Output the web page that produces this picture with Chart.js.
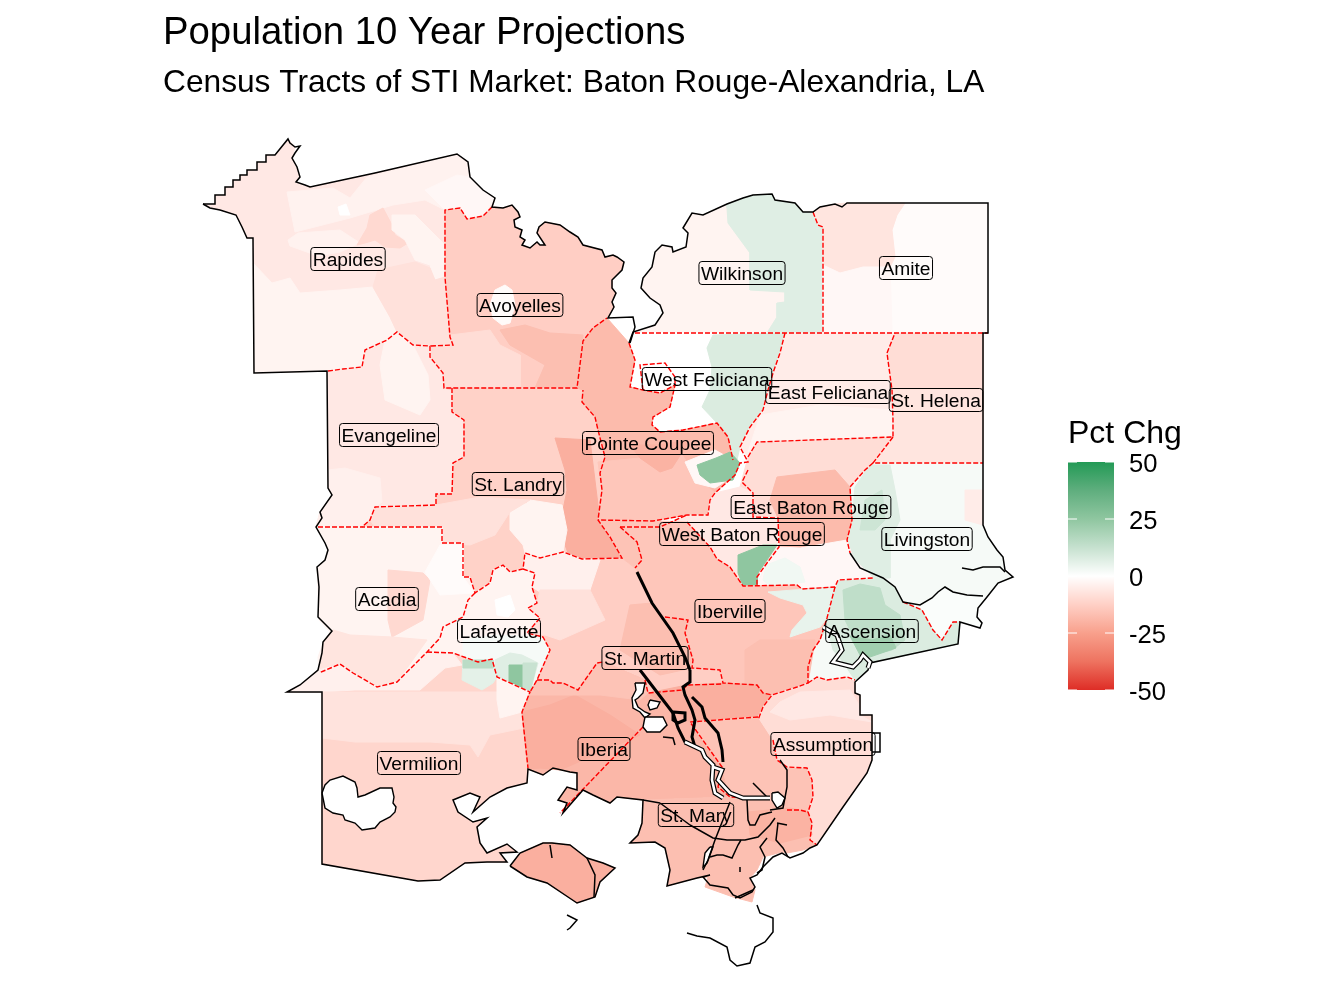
<!DOCTYPE html>
<html>
<head>
<meta charset="utf-8">
<title>Population 10 Year Projections</title>
<script src="https://cdn.jsdelivr.net/npm/chart.js@4"></script>
<style>
  html, body { margin: 0; padding: 0; background: #fff; }
  canvas { display: block; }
</style>
</head>
<body>
<canvas id="map" width="1344" height="1008"></canvas>
<script>
// colour scale of the legend
const rampPct = [-50, -37.5, -25, -12.5, 0, 12.5, 25, 37.5, 50];
const rampColor = ["#de2d26", "#ee7360", "#f8a08c", "#ffd0c6", "#ffffff", "#c6e1cf", "#8fc6a0", "#5fae7e", "#239a56"];
const legendTicks = [50, 25, 0, -25, -50];

// estimated percent change of each filled area, same order as tractShapes
const tractPct = [
  -6, -3, -3.5, -3.5, -10, -3, -2, 0, -8,            // Rapides
  -13, -9, -17, -1,                                  // Avoyelles
  -3, 7,                                             // Wilkinson
  -1, -7, -2,                                        // Amite
  0, 8,                                              // West Feliciana
  -5, -3,                                            // East Feliciana
  -9, -7,                                            // St. Helena
  2, 7, 11, -5, 1,                                   // Livingston
  8, 2, 14, 21,                                      // Ascension
  -6, -3, -4,                                        // Evangeline
  -12, -21, -3, -8, -1,                              // St. Landry
  -3, -10, -7, -1,                                   // Acadia
  -3, 0, 2, 7, 25, 12,                               // Lafayette
  -18, -15, -20,                                     // Pointe Coupee
  -2, 25,                                            // False River patch
  -9, -18, -2, 3,                                    // East Baton Rouge
  -6, 25,                                            // West Baton Rouge
  -15, 5, -17,                                       // Iberville
  -11, -4, -7.5, -3, 6, 15,                          // Vermilion
  -13, -4, -8, -17, -16,                             // St. Martin upper
  -19, -21, -16,                                     // Iberia and lower St. Martin
  -21, -16,                                          // Assumption west
  -9, -6,                                            // Assumption east
  -17, -20,                                          // St. Mary
  -21                                                // Marsh Island
];

// outlines in map units, [x, y, x, y, ...]
const tractShapes = [
  // Rapides
  [203,204,215,204,215,195,225,195,225,187,233,187,233,180,240,180,240,175,247,175,247,170,257,170,257,162,266,162,266,155,275,155,288,139,295,147,292,158,300,177,296,182,310,187,375,173,457,154,468,162,470,177,483,190,495,198,492,207,483,216,467,219,460,208,445,210,445,277,450,337,453,345,430,346,413,345,397,332,387,340,365,350,362,367,327,371,254,373,253,238,247,238,242,227,236,215,220,210],
  [253,263,272,283,290,278,300,293,340,290,373,287,390,317,397,332,387,340,365,350,362,367,327,371,254,373],
  [287,192,333,188,350,198,367,177,457,154,468,162,470,177,483,190,495,198,483,216,467,219,460,208,445,210,425,200,393,205,370,212,350,218,295,232],
  [288,240,298,233,340,230,360,243,340,252,318,256,290,246],
  [357,245,367,228,370,215,383,208,392,225,395,235,408,243,400,248,385,247,375,240,365,243],
  [392,215,415,215,445,245,445,277,435,280,430,265,415,260,405,240,392,230],
  [425,190,457,175,470,177,483,190,495,198,483,216,467,219,460,208,445,210],
  [338,207,346,204,350,215,340,215],
  [373,287,378,270,415,262,430,268,435,280,445,277,450,337,453,345,430,346,413,345,397,332,390,317],
  // Avoyelles
  [445,210,460,208,467,219,483,216,492,207,503,208,512,205,518,212,520,217,514,220,515,227,522,230,520,237,525,240,522,245,530,248,537,242,540,245,545,245,537,233,539,227,545,222,560,225,570,232,578,237,583,245,602,250,605,257,613,255,617,257,624,262,622,270,612,280,612,288,616,293,612,302,614,307,608,318,593,328,583,341,577,388,444,388,443,373,430,357,430,346,453,345,450,337,445,277],
  [450,335,490,330,500,345,520,355,520,388,444,388,443,373,430,357,430,346,453,345],
  [500,330,525,325,550,333,583,335,577,388,535,388,545,365,510,345],
  [495,290,505,285,512,290,515,305,510,323,502,325,493,318,490,305],
  // Wilkinson
  [641,288,643,278,652,267,655,252,662,245,672,247,673,252,686,247,688,233,683,228,692,213,703,215,727,204,743,198,753,195,772,194,775,200,795,203,803,212,813,212,818,225,823,227,823,333,635,333,655,325,663,313,660,305,650,298],
  [727,208,728,223,750,253,750,290,785,292,785,302,777,303,777,317,767,333,823,333,823,227,818,225,813,212,803,212,795,203,775,200,772,194,753,195,743,198,727,204],
  // Amite
  [823,227,813,212,820,207,847,203,988,203,988,333,823,333],
  [813,212,820,207,835,204,847,203,905,203,897,215,892,230,895,257,890,267,863,267,840,273,823,265,823,227,818,225],
  [823,265,840,273,863,267,890,267,892,333,823,333],
  // West Feliciana
  [629,343,635,333,785,333,780,353,773,373,768,390,763,410,750,427,740,447,733,460,728,437,717,423,683,430,660,432,652,425,653,417,670,407,675,385,660,393,643,390,630,387,635,360],
  [713,335,785,333,780,353,773,373,768,390,763,410,750,427,740,447,737,460,733,460,728,437,717,423,702,407,710,390,712,367,707,348],
  // East Feliciana
  [785,333,895,333,887,353,892,390,893,420,893,437,757,442,748,457,740,447,750,427,763,410,768,390,773,373,780,353],
  [760,415,820,405,893,410,893,437,757,442,748,452],
  // St. Helena
  [895,333,983,333,983,463,873,463,893,437,893,420,892,390,887,353],
  [892,390,983,390,983,463,873,463,893,437,893,420],
  // Livingston
  [873,463,983,463,983,525,988,537,997,550,1003,557,1005,570,1013,577,998,583,987,597,967,595,953,592,945,587,938,592,932,598,920,605,903,602,895,587,883,578,873,578,863,568,853,558,847,540,852,520,850,487,865,470],
  [855,487,870,465,890,465,895,490,900,520,890,540,890,578,873,578,863,568,853,558,848,540,852,520],
  [865,500,882,490,885,520,875,530,860,530],
  [965,490,983,490,983,525,965,520],
  [903,602,920,605,932,598,938,592,945,587,953,592,967,595,987,597,978,608,977,617,982,623,980,628,960,622,953,622,942,640,933,630,922,610],
  // Ascension
  [838,580,873,578,883,578,895,587,903,602,922,610,933,630,942,640,953,622,960,622,958,644,870,663,868,670,855,682,847,677,827,680,817,677,808,683,808,667,813,650,820,640,827,618,835,587],
  [808,683,808,667,813,650,820,640,827,630,832,650,842,662,855,682,847,677,827,680,817,677],
  [843,590,860,584,880,588,885,605,900,615,905,640,892,650,870,655,855,640,845,620],
  [850,636,872,640,890,635,896,648,870,657,860,655],
  // Evangeline
  [327,371,362,367,365,350,387,340,397,332,413,345,430,346,430,357,443,373,444,388,452,390,452,412,464,420,464,457,453,463,452,494,436,494,436,505,375,507,370,520,362,527,316,527,320,512,332,495,328,488,328,390],
  [385,340,397,332,413,345,428,375,430,400,420,415,385,400,380,365],
  [328,470,345,468,380,478,382,502,375,507,370,520,362,527,316,527,320,512,332,495,328,488],
  // St. Landry
  [444,388,577,388,583,390,582,402,595,417,598,430,605,457,600,473,602,490,598,520,610,537,622,558,582,559,563,552,540,558,525,553,523,569,510,572,503,565,493,570,490,583,475,593,470,577,463,577,463,543,442,543,442,527,362,527,370,520,375,507,436,505,436,494,452,494,453,463,464,457,464,420,452,412,452,390],
  [555,438,590,440,598,505,602,522,622,558,570,558,565,545,563,510,567,490,565,470],
  [510,505,527,503,530,500,562,505,567,530,563,552,540,558,525,553,523,545,510,530,510,520],
  [436,505,480,497,530,500,510,512,495,535,470,545,442,543,442,527,375,527,370,520,375,507],
  [435,545,463,545,463,577,470,590,450,590,435,575,425,570],
  // Acadia
  [316,527,442,527,442,543,463,543,463,577,470,577,475,593,468,600,463,617,443,627,440,638,427,652,397,682,377,687,353,673,340,664,319,673,318,657,323,643,330,632,319,620,317,567,325,560,328,547],
  [388,570,423,573,430,580,423,620,392,637,388,620],
  [333,630,350,635,392,637,427,640,397,682,377,687,353,673,340,664,320,670,323,643],
  [440,545,463,545,463,577,475,593,440,595,425,572],
  // Lafayette
  [475,593,490,583,493,570,503,565,510,572,523,569,535,573,532,587,537,603,528,608,540,618,527,633,543,637,550,650,537,680,530,692,497,677,492,659,478,662,453,653,427,652,440,638,443,627,463,617,468,600],
  [495,600,510,595,515,610,508,617,497,615],
  [463,640,495,635,543,637,550,650,537,680,530,692,497,677,492,659,478,662,463,657],
  [495,660,510,653,522,655,538,663,530,692,497,677],
  [509,665,523,665,523,690,509,685],
  [523,663,537,663,530,692,523,690],
  // Pointe Coupee
  [583,341,593,328,607,318,629,343,635,360,630,387,643,390,660,393,675,385,670,407,653,417,652,425,660,432,683,430,717,423,728,437,733,460,740,463,735,475,715,493,710,500,708,515,687,515,653,521,620,520,598,520,602,490,600,473,605,457,598,430,595,417,582,402,583,390,577,388],
  [598,462,640,458,660,470,680,452,700,480,715,493,710,500,708,515,687,515,653,521,620,520,598,520,602,490],
  [630,445,660,445,690,440,672,468,660,472,640,458],
  // False River patch
  [685,462,715,450,733,460,735,475,715,488,695,483],
  [697,465,716,458,730,452,740,463,733,480,710,483,700,475],
  // East Baton Rouge
  [757,442,893,437,873,463,865,470,850,487,852,520,847,540,853,558,863,568,873,578,838,580,835,587,802,589,797,585,757,585,767,563,779,547,778,518,753,517,753,493,740,487,748,457],
  [777,477,835,470,850,487,852,520,847,540,800,548,779,547,778,518,770,500],
  [767,563,779,547,800,548,847,540,853,558,863,568,873,578,838,580,835,587,802,589,797,585,757,585],
  [766,565,785,558,800,567,805,582,770,586,763,580],
  // West Baton Rouge
  [660,527,687,515,708,515,710,500,715,493,740,487,753,493,753,517,778,518,779,547,767,563,757,577,757,585,743,586,730,567,717,559,710,547,687,522],
  [738,555,763,545,777,545,767,560,758,573,757,585,743,586,738,573],
  // Iberville
  [635,568,642,560,637,542,620,527,620,520,660,521,687,522,710,547,717,559,730,567,743,586,797,585,802,589,835,587,827,618,820,640,813,650,808,667,808,683,797,687,772,695,763,693,757,685,723,683,720,670,692,668,693,660,685,633,688,620,665,617,652,603],
  [768,592,793,590,835,588,827,618,820,627,790,637,792,630,807,613,803,605,780,598],
  [745,650,760,640,790,640,815,640,808,683,797,687,772,695,763,693,757,685,745,683],
  // Vermilion
  [322,692,287,692,300,685,318,670,340,664,353,673,377,687,397,682,427,652,453,653,478,662,492,659,497,677,530,692,522,712,528,769,527,783,507,788,490,797,473,812,480,797,470,793,453,800,458,812,473,822,487,818,477,827,480,843,487,853,507,844,517,852,500,853,507,862,487,862,465,863,440,880,418,881,322,864],
  [287,692,300,685,318,670,340,664,353,673,377,687,397,682,427,652,453,653,462,665,445,668,420,690,355,690,322,692],
  [322,692,530,692,522,712,524,728,490,735,478,757,470,745,430,742,355,742,322,738],
  [497,677,530,692,522,712,500,718,497,700],
  [463,660,478,662,492,660,497,677,493,683,482,690,462,680],
  [463,660,492,660,493,668,463,668],
  // St. Martin upper
  [540,558,563,552,582,559,622,558,635,568,652,603,665,617,688,620,685,633,693,660,692,668,720,670,723,683,687,685,683,690,648,693,645,680,603,662,597,663,578,690,563,683,553,683,550,680,537,680,550,650,543,637,527,633,540,618,528,608,537,603,532,587,535,573,523,569,525,553],
  [540,558,563,552,582,559,600,560,590,590,540,592,532,587,535,573,523,569,525,553],
  [540,590,590,590,605,620,560,640,545,635,527,633,540,618,528,608,537,603],
  [630,605,652,603,665,617,688,620,685,633,693,660,692,668,660,675,620,650],
  [598,520,620,520,620,527,637,542,642,560,635,568,622,558,610,537],
  // Iberia and lower St. Martin
  [522,712,530,692,537,680,550,680,553,683,563,683,578,690,597,663,603,662,645,680,648,693,690,695,693,713,690,722,722,767,730,797,643,800,617,797,610,803,593,795,583,790,562,813,567,803,558,800,567,787,577,790,577,773,570,772,553,768,543,775,528,769],
  [522,712,550,705,575,695,610,715,640,735,560,770,540,768,528,769],
  [537,680,550,680,553,683,563,683,578,690,597,663,603,662,645,680,648,693,640,700,600,695,570,695,530,695],
  // Assumption west
  [648,693,687,685,723,683,757,685,763,693,772,695,763,707,758,717,690,722],
  [690,722,758,717,773,740,777,760,787,767,807,768,812,780,813,797,808,812,800,810,787,810,787,800,730,797,722,767],
  // Assumption east
  [772,695,797,687,808,683,817,677,827,680,847,677,855,682,855,693,860,695,860,715,872,715,872,760,867,773,843,807,817,845,810,840,812,823,808,812,813,797,812,780,807,768,787,767,777,760,773,740,758,717,763,707],
  [770,712,780,702,800,692,850,690,858,703,860,715,872,722,830,715,790,720],
  // St. Mary
  [643,800,730,797,787,800,787,810,808,812,812,823,810,840,817,845,803,850,787,853,782,852,763,857,757,870,750,878,755,890,752,902,733,897,705,887,708,877,697,878,667,886,670,870,665,848,655,842,630,843,638,835,642,823],
  [748,812,790,808,808,812,812,835,780,843,750,835],
  // Marsh Island
  [510,866,520,853,543,843,552,843,570,845,583,855,587,858,603,863,615,868,600,882,595,897,577,903,568,897,547,883,527,877]
];

// open water, left white
const waterShapes = [
  [322,793,325,785,330,780,343,776,355,782,357,788,358,797,365,795,380,788,392,788,394,797,393,803,396,807,395,812,390,817,380,822,375,828,362,830,355,823,345,820,343,815,333,813,325,808],
  [635,683,645,683,643,693,638,698,635,700,638,707,645,712,650,714,645,718,640,712,633,708,632,698,636,690],
  [650,700,660,702,657,708,650,710,648,705],
  [645,717,663,717,667,725,660,732,647,732,643,727],
  [772,793,778,792,785,798,782,805,777,808,772,800],
  [710,847,713,847,707,863,703,867,705,853]
];

// county lines
const countyLines = [
  [492,207,483,216,467,219,460,208,445,210,445,277,450,337,453,345,430,346],
  [328,371,343,369,362,367,365,350,387,340,397,332,413,345,430,346,430,357,443,373,444,388,577,388,583,341,593,328,607,318],
  [452,388,452,412,464,420,464,457,453,463,452,494,436,494,436,505,375,507,370,520,362,527],
  [318,527,442,527,442,543,463,543,463,577,470,577,475,593,490,583,493,570,503,565,510,572,523,569,525,553,540,558,563,552,582,559,622,558,610,537,598,520,602,490,600,473,605,457,598,430,595,417,582,402,583,390],
  [475,593,468,600,463,617,443,627,440,638,427,652,397,682,377,687,353,673,340,664,319,673],
  [427,652,453,653,478,662,492,659,497,677,530,692,522,712,528,768],
  [523,569,535,573,532,587,537,603,528,608,540,618,527,633,543,637,550,650,537,680,530,692],
  [537,680,550,680,553,683,563,683,578,690,597,663,603,662],
  [629,343,635,360,630,387,643,390,660,393,675,385,670,407,653,417,652,425,660,432,683,430,717,423,728,437,733,460],
  [643,390,640,365,665,363,675,377,675,385],
  [635,333,988,333],
  [813,212,818,225,823,227,823,333],
  [785,333,780,353,773,373,768,390,763,410,750,427,740,447,748,462,740,463,735,475,715,493,710,500,708,515,687,515,653,521,598,520],
  [748,457,757,442,893,437,893,420,892,390,887,353,895,333],
  [893,437,873,463,983,463],
  [873,463,865,470,850,487,852,520,847,540,850,553],
  [903,602,922,610,933,630,942,640,953,622,960,622],
  [748,470,742,482,753,493,753,517,778,518,779,547,767,563,757,577,757,585],
  [620,527,660,527,687,515],
  [620,527,637,542,642,560,635,568],
  [687,522,710,547,717,559,730,567,743,586,797,585,802,589,835,587,838,580,873,578],
  [835,587,827,618,820,640,813,650,808,667,808,683,797,687,772,695,763,707,758,720],
  [808,683,817,677,827,680,847,677,855,680],
  [665,617,688,620,685,633,693,660,692,668,720,670,723,683,757,685,763,693,772,695],
  [645,680,648,693,683,690,687,685,723,684],
  [758,717,690,722,722,767,718,787,730,797,763,798],
  [643,727,560,813],
  [773,740,777,760,787,767,807,768,812,780,813,797,808,812,812,823,810,840,817,845],
  [787,810,800,810,808,812]
];

// outer boundary, rivers and coast
const coastLines = [
  [203,204,215,204,215,195,225,195,225,187,233,187,233,180,240,180,240,175,247,175,247,170,257,170,257,162,266,162,266,155,275,155,288,139,290,143,295,147,300,146,295,153,292,158,297,167,300,177,296,182,305,185,310,187,375,173,457,154,468,162,470,177,483,190,495,198,492,207,503,208,512,205,518,212,520,217,514,220,515,227,522,230,520,237,525,240,522,245,530,248,537,242,540,245,545,245,537,233,539,227,545,222,560,225,570,232,578,237,583,245,602,250,605,257,613,255,617,257,624,262,622,270,612,280,612,288,616,293,612,302,614,307,608,318,633,317,635,327,630,343],
  [629,343,633,332,655,325,663,313,660,305,650,298,641,288,643,278,652,267,655,252,662,245,672,247,673,252,686,247,688,233,683,228,692,213,703,215,727,204,743,198,753,195,772,194,775,200,795,203,803,212,813,212,820,207,835,204,842,207,847,203,988,203,988,333,983,333,983,525,988,537,997,550,1003,557,1005,570,1013,577,998,583,987,597,978,608,977,617,982,623,980,628,960,622,958,644,870,663,868,670,855,682,855,693,860,695,860,715,872,715,872,760,867,773,843,807,817,845,810,848,803,853,790,858,782,853,773,857,763,867,757,875,750,878,755,887,752,892,740,898,733,895,728,888,710,885,703,877,710,875,697,878,667,886,670,870,665,848,655,842,630,843,638,835,642,823,643,800,617,797,610,803,593,795,583,790,563,813,567,803,558,800,567,787,577,790,577,773,570,772,553,768,543,775,528,769,527,783,507,788,490,797,473,812,480,797,470,793,453,800,458,812,473,822,487,818,477,827,480,843,487,853,507,844,517,852,500,853,507,862,487,862,465,863,440,880,418,881,322,864,322,692,287,692,300,685,318,670,322,653,323,642,332,631,318,617,319,587,317,567,325,560,328,550,325,543,316,527,322,518,320,512,332,495,328,488,327,371,254,373,253,238,247,238,242,227,236,215,220,210,210,208,203,204],
  [510,866,520,853,543,843,552,843,570,845,583,855,587,858,603,863,615,868,600,882,595,897,577,903,568,897,547,883,527,877,510,866],
  [757,905,760,913,773,918,773,932,765,942,755,947,750,963,737,966,730,960,727,947,710,938,697,936,687,933],
  [850,553,860,568,883,578,895,587,903,602,920,605,932,598,938,592,945,587,953,592,967,595,983,596],
  [962,568,973,570,983,567,1000,567,1005,572],
  [730,802,715,840,708,860,703,870],
  [780,760,787,770,787,787,783,808,770,810],
  [753,783,763,793,768,798],
  [747,800,748,820,750,825,755,825,760,815,772,812],
  [690,825,713,838,727,840,745,840,758,837,770,825,775,818],
  [777,823,787,825],
  [778,823,776,840,783,848,788,857],
  [767,838,760,847,765,857,762,870,757,873],
  [710,857,717,855,723,855,732,858,738,845,741,840],
  [740,867,740,872],
  [735,898,753,890],
  [587,858,595,875,594,897],
  [567,915,577,920,570,928,567,930],
  [550,845,552,858],
  [663,737,673,738,675,745],
  [660,803,690,825],
  [643,800,660,803],
  [872,733,880,733,880,752,872,752]
];
const heavyLines = [
  [690,670,690,682,683,687,685,695,692,710,695,720,692,737,695,747],
  [637,572,652,603,673,633,685,657,690,670],
  [640,670,650,683,663,700,673,713,678,728,685,742,702,750],
  [692,697,702,707,705,718,718,733,722,750,723,762],
  [673,712,685,713,685,720,678,723,673,720,673,712]
];
const whiteRivers = [
  [685,742,702,750,705,757,713,765,712,780,715,793,723,798],
  [713,767,722,770,718,780,730,793,743,798,770,798],
  [823,627,837,635,842,650,833,662,853,667,860,660,863,655,870,662,868,668]
];

// county labels, centres in map units
const labelNames = ["Rapides", "Avoyelles", "Wilkinson", "Amite", "West Feliciana", "East Feliciana", "St. Helena", "Evangeline", "Pointe Coupee", "St. Landry", "East Baton Rouge", "West Baton Rouge", "Livingston", "Acadia", "Iberville", "Lafayette", "Ascension", "St. Martin", "Assumption", "Iberia", "Vermilion", "St. Mary"];
const labelX = [348, 520, 742, 906, 707, 828, 936, 389, 648, 518, 811, 742, 927, 387, 730, 499, 872, 645, 823, 604, 419, 696];
const labelY = [259, 305, 273, 268, 379, 392, 400, 435, 443, 484, 507, 534, 539, 599, 611, 631, 631, 658, 744, 749, 763, 815];

const FONT = '"Liberation Sans", Arial, sans-serif';
const chartTop = 102;

function toPoints(flat) {
  const pts = [];
  for (let i = 0; i < flat.length; i += 2) pts.push({ x: flat[i], y: flat[i + 1] });
  return pts;
}

function closed(flat) {
  return toPoints(flat.concat([flat[0], flat[1]]));
}

function pctColor(v) {
  let i = 0;
  while (i < rampPct.length - 2 && v > rampPct[i + 1]) i++;
  const t = (v - rampPct[i]) / (rampPct[i + 1] - rampPct[i]);
  const a = rampColor[i], b = rampColor[i + 1];
  const part = (s, k) => parseInt(s.substr(k, 2), 16);
  const mix = (k) => Math.round(part(a, k) + (part(b, k) - part(a, k)) * t);
  return "rgb(" + mix(1) + "," + mix(3) + "," + mix(5) + ")";
}

// painted from first to last
const layers = [];
tractShapes.forEach((shape, i) => {
  const c = pctColor(tractPct[i]);
  layers.push({ data: closed(shape), backgroundColor: c, borderColor: c, borderWidth: 1, fill: "shape" });
});
countyLines.forEach((line) => {
  layers.push({ data: toPoints(line), borderColor: "#ff0000", borderWidth: 1.4, borderDash: [5, 2], fill: false });
});
waterShapes.forEach((shape) => {
  layers.push({ data: closed(shape), backgroundColor: "#fff", borderColor: "#000", borderWidth: 1.4, fill: "shape" });
});
coastLines.forEach((line) => {
  layers.push({ data: toPoints(line), borderColor: "#000", borderWidth: 1.5, fill: false });
});
heavyLines.forEach((line) => {
  layers.push({ data: toPoints(line), borderColor: "#000", borderWidth: 3, fill: false });
});
whiteRivers.forEach((line) => {
  layers.push({ data: toPoints(line), borderColor: "#000", borderWidth: 5, fill: false });
});
whiteRivers.forEach((line) => {
  layers.push({ data: toPoints(line), borderColor: "#fff", borderWidth: 2.6, fill: false });
});

const datasets = layers.map((d, i) => Object.assign({
  showLine: true,
  pointRadius: 0,
  pointHoverRadius: 0,
  tension: 0,
  order: layers.length - i
}, d));

const countyLabels = {
  id: "countyLabels",
  afterDatasetsDraw(chart) {
    const { ctx, scales } = chart;
    ctx.save();
    ctx.font = "19.2px " + FONT;
    ctx.textAlign = "center";
    ctx.textBaseline = "middle";
    labelNames.forEach((name, i) => {
      const px = scales.x.getPixelForValue(labelX[i]);
      const py = scales.y.getPixelForValue(labelY[i]);
      const w = ctx.measureText(name).width + 4;
      ctx.beginPath();
      ctx.roundRect(px - w / 2, py - 11.5, w, 23, 3);
      ctx.strokeStyle = "#000";
      ctx.lineWidth = 1;
      ctx.stroke();
      ctx.fillStyle = "#000";
      ctx.fillText(name, px, py + 1.5);
    });
    ctx.restore();
  }
};

const colourLegend = {
  id: "colourLegend",
  afterDraw(chart) {
    const ctx = chart.ctx;
    const left = 1068, right = 1114, zero = 576, perPct = 2.28;
    const yOf = (v) => zero - v * perPct;
    ctx.save();
    const grad = ctx.createLinearGradient(0, yOf(50), 0, yOf(-50));
    rampPct.forEach((v, i) => grad.addColorStop((50 - v) / 100, rampColor[i]));
    ctx.fillStyle = grad;
    ctx.fillRect(left, yOf(50), right - left, yOf(-50) - yOf(50));
    ctx.fillStyle = "#000";
    ctx.font = "32px " + FONT;
    ctx.textAlign = "left";
    ctx.textBaseline = "middle";
    ctx.fillText("Pct Chg", 1068, 434);
    ctx.font = "25.6px " + FONT;
    legendTicks.forEach((v) => {
      const y = yOf(v);
      ctx.strokeStyle = "#fff";
      ctx.lineWidth = 1;
      ctx.beginPath();
      ctx.moveTo(left, y); ctx.lineTo(left + 9, y);
      ctx.moveTo(right - 9, y); ctx.lineTo(right, y);
      ctx.stroke();
      ctx.fillText(String(v), 1129, y + 3);
    });
    ctx.restore();
  }
};

new Chart(document.getElementById("map"), {
  type: "scatter",
  data: { datasets },
  plugins: [countyLabels, colourLegend],
  options: {
    responsive: false,
    animation: false,
    events: [],
    layout: { padding: { left: 163 } },
    scales: {
      x: { type: "linear", display: false, min: 163, max: 1344 },
      y: { type: "linear", display: false, reverse: true, min: chartTop, max: 1008 }
    },
    plugins: {
      legend: { display: false },
      tooltip: { enabled: false },
      title: {
        display: true,
        text: "Population 10 Year Projections",
        align: "start",
        fullSize: false,
        color: "#000",
        font: { family: FONT, size: 38.3, weight: "normal", lineHeight: 1.2 },
        padding: { top: 10, bottom: 0 }
      },
      subtitle: {
        display: true,
        text: "Census Tracts of STI Market: Baton Rouge-Alexandria, LA",
        align: "start",
        fullSize: false,
        color: "#000",
        font: { family: FONT, size: 31.7, weight: "normal", lineHeight: 1.2 },
        padding: { top: 8, bottom: 0 }
      }
    }
  }
});
</script>
</body>
</html>
